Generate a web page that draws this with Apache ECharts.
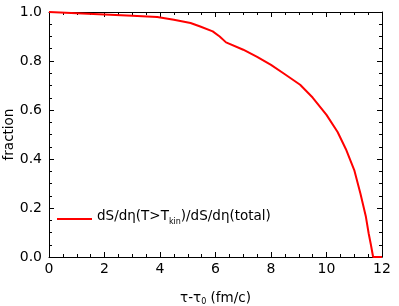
<!DOCTYPE html>
<html><head><meta charset="utf-8">
<script src="https://cdn.jsdelivr.net/npm/echarts@6/dist/echarts.min.js"></script>
<style>html,body{margin:0;padding:0;background:#fff}#c{width:399px;height:306px}</style>
</head><body><div id="c"></div>
<script>
const tauX = [0, 1, 2, 3, 3.9, 4.5, 5.1, 5.45, 5.9, 6.15, 6.38, 7.0, 7.5, 8.0, 8.5, 9.05, 9.5, 10.0, 10.4, 10.7, 11.0, 11.22, 11.42, 11.52, 11.6, 11.68, 12.0];
const fracY = [1.0, 0.995, 0.99, 0.985, 0.98, 0.968, 0.955, 0.941, 0.921, 0.9, 0.876, 0.846, 0.817, 0.784, 0.746, 0.703, 0.651, 0.58, 0.51, 0.44, 0.355, 0.26, 0.164, 0.096, 0.05, 0.0, 0.0];
const legendName = 'dS/dη(T>T_kin)/dS/dη(total)';
const xTicks = {min: 0, max: 12, interval: 2};
const yTicks = {min: 0, max: 1, interval: 0.2};

const font = 'DejaVu Sans, Verdana, sans-serif';
const chart = echarts.init(document.getElementById('c'));
const axisCommon = {
  axisLine: {show: true, onZero: false, lineStyle: {color: '#000', width: 1}},
  axisTick: {show: true, inside: true, length: 5, lineStyle: {color: '#000'}},
  minorTick: {show: true, splitNumber: 4, length: 3, lineStyle: {color: '#000'}},
  splitLine: {show: false},
  axisLabel: {color: '#000', fontSize: 14, fontFamily: font}
};
chart.setOption({
  animation: false,
  grid: {left: 49, right: 17, top: 12, bottom: 49, outerBoundsMode: 'none', containLabel: false},
  legend: {
    left: 52, top: 203, itemWidth: 35, itemHeight: 14, itemGap: 0,
    data: [{name: legendName, icon: 'path://M0,6 L35,6 L35,8 L0,8 Z'}],
    itemStyle: {color: '#ff0000'},
    formatter: function () { return '{a|dS/dη(T>T}{s|kin}{a|)/dS/dη(total)}'; },
    textStyle: {
      fontFamily: font, fontSize: 13.5, color: '#000', padding: 0,
      rich: {
        a: {fontFamily: font, fontSize: 13.5, color: '#000', height: 16, verticalAlign: 'top', lineHeight: 16},
        s: {fontFamily: font, fontSize: 8, color: '#000', height: 16, verticalAlign: 'bottom', lineHeight: 22, padding: [6, 0, 0, 0]}
      }
    }
  },
  xAxis: [
    Object.assign({}, axisCommon, {
      type: 'value', min: xTicks.min, max: xTicks.max, interval: xTicks.interval, position: 'bottom',
      axisLabel: {color: '#000', fontSize: 14, fontFamily: font, margin: 5},
      name: 'τ-τ{s|0} (fm/c)', nameLocation: 'middle', nameGap: 33, nameMoveOverlap: false,
      nameTextStyle: {color: '#000', fontSize: 13.5, fontFamily: font,
        rich: {s: {fontSize: 8, fontFamily: font, color: '#000', padding: [8, 0, 0, 0]}}}
    }),
    Object.assign({}, axisCommon, {
      type: 'value', min: xTicks.min, max: xTicks.max, interval: xTicks.interval, position: 'top',
      axisLabel: {show: false}
    })
  ],
  yAxis: [
    Object.assign({}, axisCommon, {
      type: 'value', min: yTicks.min, max: yTicks.max, interval: yTicks.interval, position: 'left',
      axisLabel: {color: '#000', fontSize: 14, fontFamily: font, margin: 7, formatter: v => v.toFixed(1)},
      name: 'fraction', nameLocation: 'middle', nameGap: 33, nameMoveOverlap: false,
      nameTextStyle: {color: '#000', fontSize: 13.5, fontFamily: font}
    }),
    Object.assign({}, axisCommon, {
      type: 'value', min: yTicks.min, max: yTicks.max, interval: yTicks.interval, position: 'right',
      axisLabel: {show: false}
    })
  ],
  series: [{
    name: legendName, type: 'line', xAxisIndex: 0, yAxisIndex: 0,
    data: tauX.map((x, i) => [x, fracY[i]]),
    showSymbol: false, symbol: 'none', smooth: false,
    lineStyle: {color: '#ff0000', width: 2}, itemStyle: {color: '#ff0000'}, clip: false
  }]
});
</script></body></html>
